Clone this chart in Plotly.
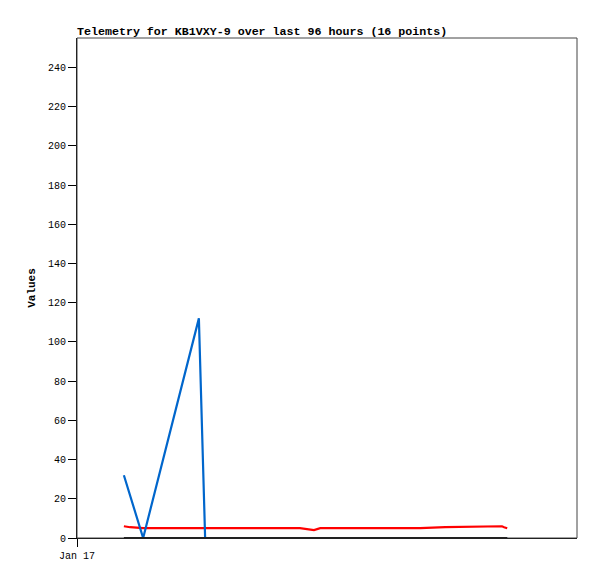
import plotly.graph_objects as go

times = [
    "2024-01-17 09:00", "2024-01-17 10:12", "2024-01-17 12:42", "2024-01-17 23:24",
    "2024-01-18 00:36", "2024-01-18 09:12", "2024-01-18 18:48", "2024-01-18 21:30",
    "2024-01-18 22:42", "2024-01-19 08:18", "2024-01-19 17:54", "2024-01-19 22:42",
    "2024-01-20 05:48", "2024-01-20 09:36", "2024-01-20 10:00", "2024-01-20 10:36",
]
blue_vals = [32, 22, 0, 112, 0, 0, 0, 0, 0, 0, 0, 0, 0, 0, 0, 0]
red_vals = [6, 5.5, 5, 5, 5, 5, 5, 4, 5, 5, 5, 5.5, 6, 6, 5.5, 5]
black_vals = [0] * 16

font = "Liberation Mono, DejaVu Sans Mono, monospace"

# page body has an 8px margin, so the figure is sized to fit inside 597x579
W, H = 589, 571

fig = go.Figure()
fig.add_trace(go.Scatter(x=times, y=red_vals, mode="lines", line=dict(color="#ff0000", width=2.2)))
fig.add_trace(go.Scatter(x=times, y=blue_vals, mode="lines", line=dict(color="#0066cc", width=2.2)))
fig.add_trace(go.Scatter(x=times, y=black_vals, mode="lines", line=dict(color="#000000", width=2.2)))

# grey frame on top and right
fig.add_shape(type="rect", xref="paper", yref="paper", x0=0, x1=1, y0=0, y1=1,
              line=dict(color="#444444", width=1))

fig.update_layout(
    width=W, height=H,
    margin=dict(l=69, r=20, t=30, b=41, autoexpand=False),
    plot_bgcolor="white", paper_bgcolor="white",
    showlegend=False,
    title=dict(text="<b>Telemetry for KB1VXY-9 over last 96 hours (16 points)</b>",
               x=69/W, xanchor="left", y=1-27/H, yanchor="bottom",
               font=dict(family=font, size=11.65, color="black")),
    font=dict(family=font, size=10, color="black"),
    xaxis=dict(range=["2024-01-17 00:00", "2024-01-21 00:00"], showgrid=False, zeroline=False,
               showline=True, linecolor="black", linewidth=1, automargin=False,
               tickvals=["2024-01-17 00:00"], ticktext=["Jan 17"],
               ticks="outside", ticklen=8, tickcolor="black"),
    yaxis=dict(range=[0, 255], showgrid=False, zeroline=False,
               showline=True, linecolor="black", linewidth=1, automargin=False,
               dtick=20, ticks="outside", ticklen=8, tickcolor="black",
               title=dict(text="<b>Values</b>", standoff=10, font=dict(size=11))),
)

fig.write_html("out.html")
